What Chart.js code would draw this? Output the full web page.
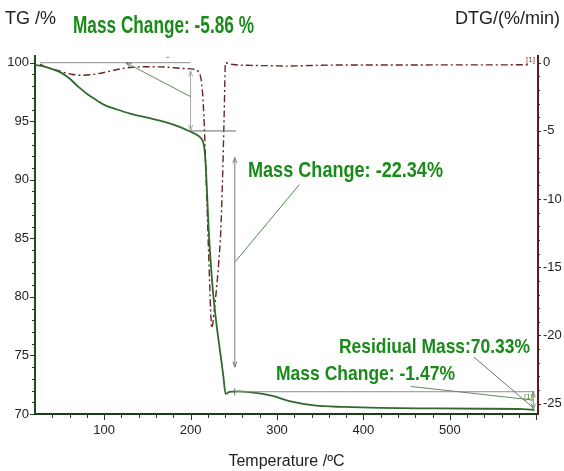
<!DOCTYPE html>
<html lang="en">
<head>
    <meta charset="UTF-8">
    <title>TG / DTG</title>
    <script src="https://cdn.jsdelivr.net/npm/chart.js"></script>
    <style>
      body { margin: 0; background: #fff; }
      canvas { display: block; }
    </style>
</head>
<body>
    <canvas id="tgChart" width="564" height="471"></canvas>

    <script>
      // TG curve: temperature (oC) and mass (%)
      var tgTemp = [20, 30, 40, 50, 60, 70, 80, 90, 100, 115, 130, 150, 170, 188, 200, 207, 212, 215, 216.5, 218, 220, 221, 223, 226, 229, 232, 235, 238, 240.5, 245, 255, 270, 285, 295, 316, 343, 378, 420, 480, 540, 585, 598]
      var tgMass = [99.82, 99.68, 99.45, 99.15, 98.65, 97.95, 97.35, 96.85, 96.4, 96.0, 95.65, 95.3, 94.95, 94.5, 94.1, 93.85, 93.55, 93.1, 92.3, 90.6, 87.3, 85.7, 83.3, 80.4, 78.3, 76.5, 74.9, 73.2, 71.72, 71.88, 71.93, 71.85, 71.7, 71.55, 71.07, 70.73, 70.6, 70.52, 70.48, 70.45, 70.42, 70.33]

      // DTG curve: temperature (oC) and rate (%/min)
      var dtgTemp = [26, 30, 38, 50, 62, 72, 85, 100, 115, 130, 150, 170, 190, 205, 209, 211.5, 213, 214.5, 216, 218, 220, 222, 223.5, 224.6, 226, 228, 230, 232.5, 235, 237, 238.8, 239.6, 240.1, 240.6, 245, 252, 270, 290, 310, 330, 360, 400, 450, 500, 550, 592]
      var dtgRate = [-0.1, -0.25, -0.42, -0.65, -0.85, -0.92, -0.88, -0.72, -0.5, -0.35, -0.3, -0.32, -0.42, -0.5, -0.65, -1.0, -1.6, -2.8, -4.8, -8.5, -12.3, -16, -18.6, -19.45, -19.0, -17.8, -16.6, -14.7, -12.3, -8.5, -4.0, -1.6, -0.2, 0.0, -0.08, -0.15, -0.2, -0.22, -0.25, -0.22, -0.18, -0.17, -0.17, -0.16, -0.16, -0.15]

      // tick labels
      var xTicks = [100, 200, 300, 400, 500]
      var tgTicks = [70, 75, 80, 85, 90, 95, 100]
      var dtgTicks = [0, -5, -10, -15, -20, -25]

      // guide lines of the evaluation, in data units (T, TG): [x1, y1, x2, y2, arrows]
      var guides = [
        [26, 100, 200, 100, ''],
        [171.5, 100.46, 175.5, 100.46, ''],
        [200, 99.3, 200, 94.2, 'both'],
        [200, 97.1, 125, 100, 'end'],
        [200, 94.17, 252.5, 94.17, ''],
        [251.2, 91.9, 251.2, 74.0, 'both'],
        [251.6, 83.0, 326, 89.6, ''],
        [250, 71.9, 598, 71.9, ''],
        [251, 71.6, 251, 72.2, ''],
        [455, 72.35, 595, 71.2, ''],
        [528, 74.85, 597, 70.5, ''],
        [596.5, 71.9, 596.5, 70.4, 'both']
      ]
      var guideColors = ['#8c8c8c', '#9a9a9a', '#a8a8a8', '#5f8a5f', '#6a6a6a', '#7a7a7a', '#4f8a4f', '#8c8c8c', '#6a6a6a', '#5f8a5f', '#5f7f5f', '#6f8f6f']

      var green = '#1a8a1a'

      function zip(xs, ys) {
        var out = []
        for (let i = 0; i < xs.length; i++) {
          out.push({x: xs[i], y: ys[i]})
        }
        return out
      }

      // squeezed bold text, like the narrow font of the instrument software
      function narrowText(ctx, text, x, y, size, width) {
        ctx.save()
        ctx.font = 'bold ' + size + 'px "Liberation Sans", Arial, sans-serif'
        var w = ctx.measureText(text).width
        ctx.translate(x, y)
        ctx.scale(width / w, 1)
        ctx.fillStyle = green
        ctx.textBaseline = 'alphabetic'
        ctx.textAlign = 'left'
        ctx.fillText(text, 0, 0)
        ctx.restore()
      }

      function arrowHead(ctx, x1, y1, x2, y2) {
        var a = Math.atan2(y2 - y1, x2 - x1)
        var l = 6
        ctx.beginPath()
        ctx.moveTo(x2 - l * Math.cos(a - 0.35), y2 - l * Math.sin(a - 0.35))
        ctx.lineTo(x2, y2)
        ctx.lineTo(x2 - l * Math.cos(a + 0.35), y2 - l * Math.sin(a + 0.35))
        ctx.stroke()
      }

      // minor + major tick marks on the outside of the axes
      const tickMarks = {
        id: 'tickMarks',
        afterDraw(chart) {
          const ctx = chart.ctx
          const area = chart.chartArea
          const sx = chart.scales.x, sy = chart.scales.y, sy2 = chart.scales.y2
          ctx.save()
          ctx.lineWidth = 1
          ctx.strokeStyle = '#1d3d1d'
          for (let t = 40; t <= 600; t += 20) {
            const px = Math.round(sx.getPixelForValue(t)) + 0.5
            const len = t % 100 == 0 ? 6 : 4
            ctx.beginPath(); ctx.moveTo(px, area.bottom); ctx.lineTo(px, area.bottom + len); ctx.stroke()
          }
          for (let v = 70; v <= 100; v++) {
            const py = Math.round(sy.getPixelForValue(v)) + 0.5
            const len = v % 5 == 0 ? 5 : 3
            ctx.beginPath(); ctx.moveTo(area.left, py); ctx.lineTo(area.left - len, py); ctx.stroke()
          }
          ctx.strokeStyle = '#5a1c1c'
          for (let v = 0; v >= -25; v--) {
            const py = Math.round(sy2.getPixelForValue(v)) + 0.5
            const len = v % 5 == 0 ? 3 : 2
            ctx.beginPath(); ctx.moveTo(area.right, py); ctx.lineTo(area.right + len, py); ctx.stroke()
          }
          ctx.restore()
        }
      }

      // evaluation lines and texts
      const evaluation = {
        id: 'evaluation',
        afterDatasetsDraw(chart) {
          const ctx = chart.ctx
          const sx = chart.scales.x, sy = chart.scales.y
          ctx.save()
          ctx.lineWidth = 1
          guides.forEach(function (g, i) {
            const x1 = sx.getPixelForValue(g[0]), y1 = sy.getPixelForValue(g[1])
            const x2 = sx.getPixelForValue(g[2]), y2 = sy.getPixelForValue(g[3])
            ctx.strokeStyle = guideColors[i]
            ctx.beginPath(); ctx.moveTo(x1, y1); ctx.lineTo(x2, y2); ctx.stroke()
            if (g[4] == 'end' || g[4] == 'both') arrowHead(ctx, x1, y1, x2, y2)
            if (g[4] == 'both') arrowHead(ctx, x2, y2, x1, y1)
          })

          // little [1] markers at the curve ends
          ctx.font = '8px "Liberation Sans", Arial, sans-serif'
          ctx.fillStyle = '#7a3a2a'
          ctx.fillText('[1]', 526, 62)
          ctx.fillStyle = '#5a8a3a'
          ctx.fillText('[1]', 524, 399)

          narrowText(ctx, 'Mass Change: -5.86 %', 73, 33, 23, 181)
          narrowText(ctx, 'Mass Change: -22.34%', 248, 177, 22, 195)
          narrowText(ctx, 'Residiual Mass:70.33%', 339, 353, 21, 191)
          narrowText(ctx, 'Mass Change: -1.47%', 276, 380, 21, 179)

          // axis captions
          ctx.fillStyle = '#222'
          ctx.font = '18px "Liberation Sans", Arial, sans-serif'
          ctx.textBaseline = 'alphabetic'
          ctx.textAlign = 'left'
          ctx.fillText('TG /%', 5, 24)
          ctx.textAlign = 'right'
          ctx.fillText('DTG/(%/min)', 560, 24)
          ctx.textAlign = 'center'
          ctx.textBaseline = 'middle'
          ctx.font = '16px "Liberation Sans", Arial, sans-serif'
          ctx.fillText('Temperature /\u00baC', (chart.chartArea.left + chart.chartArea.right) / 2, 462)
          ctx.restore()
        }
      }

      const tickFont = {family: '"Liberation Sans", Arial, sans-serif', size: 13}

      const config = {
        type: 'line',
        data: {
          datasets: [{
            label: 'TG',
            data: zip(tgTemp, tgMass),
            yAxisID: 'y',
            borderColor: '#2f6a2f',
            borderWidth: 1.8,
            pointRadius: 0,
            fill: false,
            cubicInterpolationMode: 'monotone'
          }, {
            label: 'DTG',
            data: zip(dtgTemp, dtgRate),
            yAxisID: 'y2',
            borderColor: '#6b2424',
            borderWidth: 1.4,
            borderDash: [7, 3, 2, 3],
            pointRadius: 0,
            fill: false,
            cubicInterpolationMode: 'monotone'
          }]
        },
        options: {
          responsive: false,
          animation: false,
          devicePixelRatio: 1,
          layout: { padding: { top: 56, left: 0, right: 0, bottom: 0 } },
          plugins: { legend: { display: false }, tooltip: { enabled: false } },
          scales: {
            x: {
              type: 'linear',
              min: 20,
              max: 602,
              grid: { display: false, drawTicks: false },
              border: { display: true, color: '#1d3d1d', width: 2 },
              ticks: { font: tickFont, color: '#222', padding: 9, maxRotation: 0 },
              afterBuildTicks: function (s) { s.ticks = xTicks.map(v => ({value: v})) },
              afterFit: function (s) { s.height = 57 }
            },
            y: {
              position: 'left',
              min: 70,
              max: 100.57,
              grid: { display: false, drawTicks: false },
              border: { display: true, color: '#1d4f1d', width: 2 },
              ticks: { font: tickFont, color: '#222', padding: 6 },
              afterBuildTicks: function (s) { s.ticks = tgTicks.map(v => ({value: v})) },
              afterFit: function (s) { s.width = 35 }
            },
            y2: {
              position: 'right',
              min: -25.76,
              max: 0.49,
              grid: { display: false, drawTicks: false },
              border: { display: true, color: '#5a1c1c', width: 2 },
              ticks: { font: tickFont, color: '#222', padding: 5 },
              afterBuildTicks: function (s) { s.ticks = dtgTicks.map(v => ({value: v})) },
              afterFit: function (s) { s.width = 26 }
            }
          }
        },
        plugins: [tickMarks, evaluation]
      }
    </script>
    <script>
      const tgChart = new Chart(document.getElementById('tgChart'), config);
    </script>
</body>
</html>
